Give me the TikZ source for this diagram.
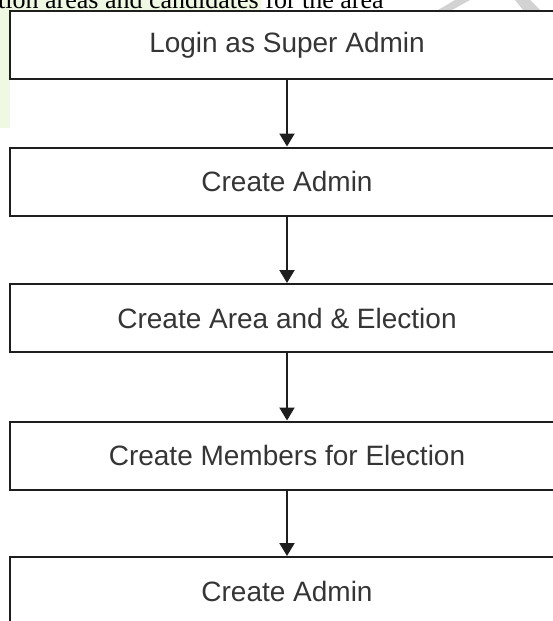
\documentclass[tikz,border=0pt]{standalone}
\usepackage{fontspec}
\setmainfont{Liberation Serif}
\newfontfamily\boxfont{Liberation Sans}
\usetikzlibrary{arrows.meta}
\definecolor{hlgreen}{HTML}{EEF8E3}
\definecolor{markgray}{HTML}{D2D2D2}
\definecolor{inkgray}{HTML}{1E1E1E}
\tikzset{
        flowbox/.style = {draw = inkgray, line width = 2pt, minimum width = 554pt,
            minimum height = 68pt, inner sep = 0pt, text = inkgray!90,
            font = \boxfont\fontsize{28}{32}\selectfont},
        flowarrow/.style = {draw = inkgray, line width = 2pt,
            -{Triangle[width = 15pt, length = 13pt]}}
}

\begin{document}
\begin{tikzpicture}[x = 1pt, y = -1pt]
        \useasboundingbox (0, 0) rectangle (553, 621);
        \fill[hlgreen] (0, 0) rectangle (261, 12);
        \fill[hlgreen] (0, 0) rectangle (10, 128);
        \fill[markgray] (455, 0) -- (470, 0) -- (452, 10) -- (438, 10) -- cycle;
        \fill[markgray] (515, 0) -- (530, 0) -- (540, 10) -- (523, 10) -- cycle;
        \node[anchor = base west, inner sep = 0pt, font = \fontsize{26}{30}\selectfont]
            (intro) at (-2, 9) {tion areas and candidates for the area};

        \node[flowbox, fill = white] (login) at (287, 45) {Login as Super Admin};
        \node[flowbox] (admin) at (287, 181.5) {Create Admin};
        \node[flowbox] (area) at (287, 318) {Create Area and \& Election};
        \node[flowbox] (members) at (287, 455.5) {Create Members for Election};
        \node[flowbox] (lastadmin) at (287, 591) {Create Admin};

        \draw[flowarrow] (login) -- (admin);
        \draw[flowarrow] (admin) -- (area);
        \draw[flowarrow] (area) -- (members);
        \draw[flowarrow] (members) -- (lastadmin);
    \end{tikzpicture}
\end{document}
